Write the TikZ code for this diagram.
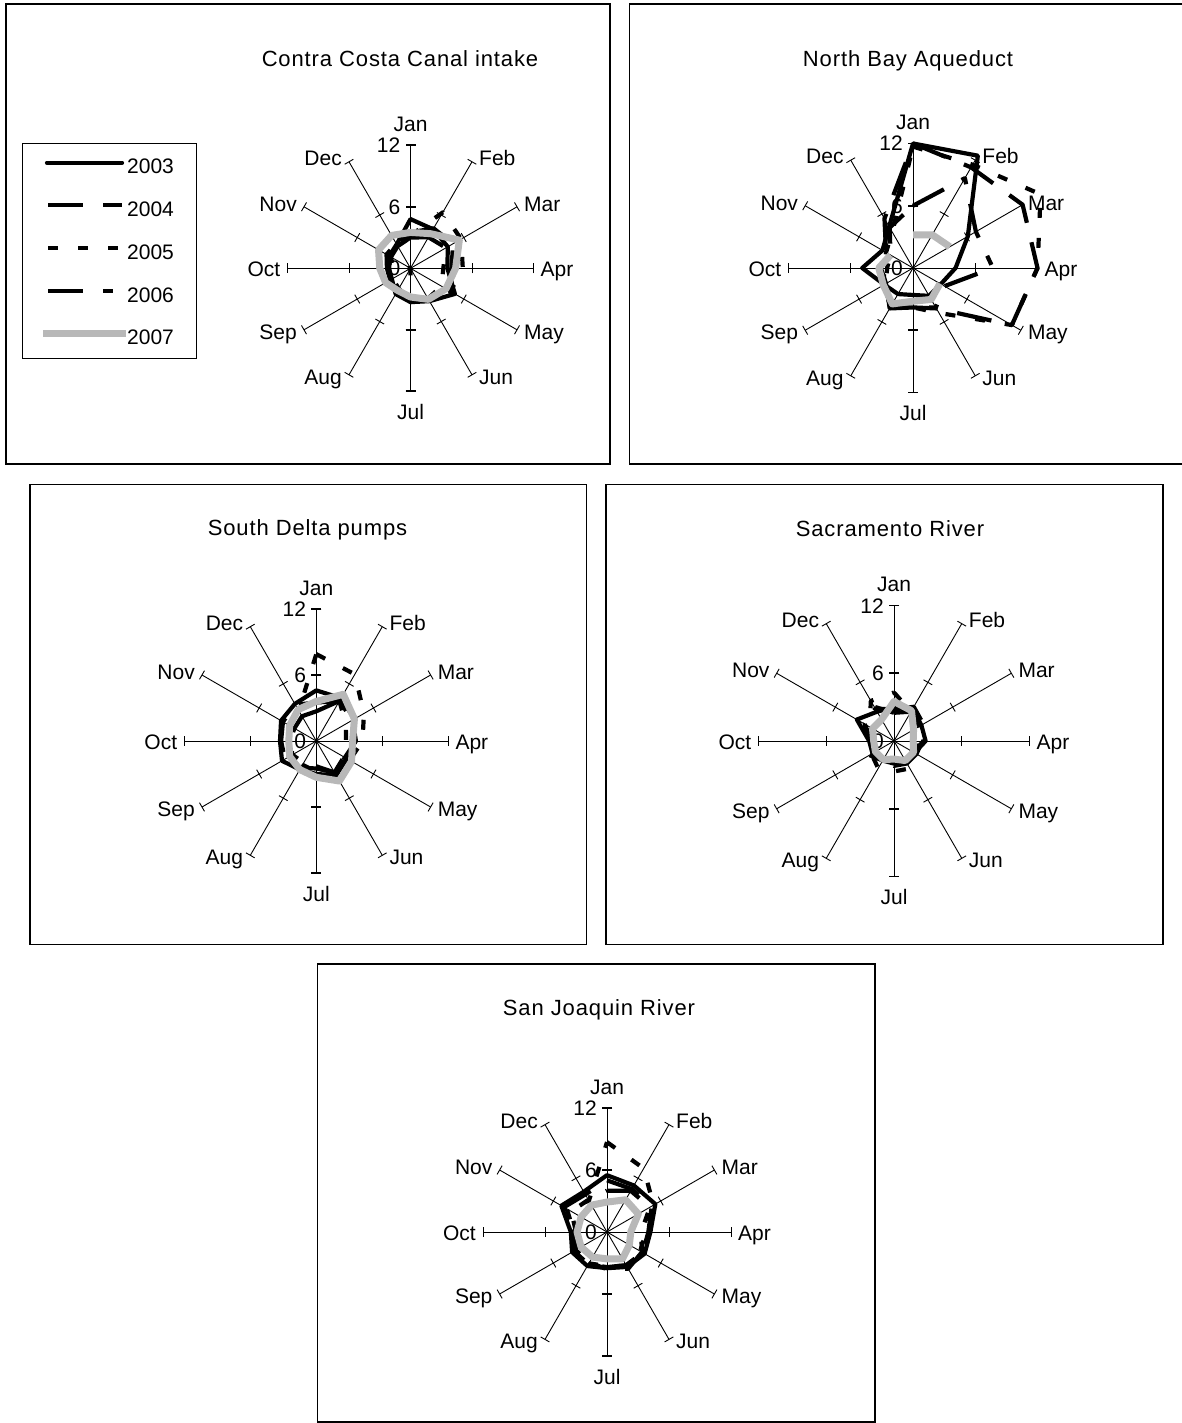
\documentclass[tikz,border=0pt]{standalone}
\usepackage{fontspec}
\setmainfont{Liberation Sans}
\definecolor{grayE}{RGB}{184,184,184}
\newcommand\runit{10}
% series: #1 style, #2 first value, #3 remaining values (closed polygon)
\newcommand\ser[3]{\draw[#1] (-90:{#2*\runit}) \foreach \v [count=\i] in {#3} { -- ({30*\i-90}:{\v*\runit}) } -- cycle;}
% open polyline: #1 style, #2 start month index, #3 first value, #4 rest
\newcommand\segs[4]{\draw[#1] ({30*(#2)-90}:{#3*\runit}) \foreach \v [count=\i] in {#4} { -- ({30*(#2+\i)-90}:{\v*\runit}) };}
% radar frame: #1 id, #2 cx, #3 cy, #4 R
\newcommand\radarbase[4]{%
 \begin{scope}[shift={(#2,#3)}]
  \foreach \i in {0,...,11}{
    \pgfmathsetmacro\a{30*\i-90}
    \draw[spoke] (0,0) -- ({\a}:{#4});
    \draw[tk] ({\a}:{#4/2}) ++({\a+90}:5) -- ++({\a-90}:10);
    \draw[tk] ({\a}:{#4}) ++({\a+90}:5) -- ++({\a-90}:10);
  }
  \foreach \a in {-90,90}{
    \draw[tkm] ({\a}:{#4/2}) ++({\a+90}:5) -- ++({\a-90}:10);
    \draw[tkm] ({\a}:{#4}) ++({\a+90}:5) -- ++({\a-90}:10);
  }
  \node[lab,anchor=base] (#1-jan) at (0,{-#4-14}) {Jan};
  \node[lab,anchor=west] (#1-feb) at ({0.5*#4+7},{-0.866*#4-4}) {Feb};
  \node[lab,anchor=west] (#1-mar) at ({0.866*#4+7},{-0.5*#4-3}) {Mar};
  \node[lab,anchor=west] (#1-apr) at ({#4+7},1) {Apr};
  \node[lab,anchor=west] (#1-may) at ({0.866*#4+7},{0.5*#4+2}) {May};
  \node[lab,anchor=west] (#1-jun) at ({0.5*#4+7},{0.866*#4+2}) {Jun};
  \node[lab,anchor=base] (#1-jul) at (0,{#4+28}) {Jul};
  \node[lab,anchor=east] (#1-aug) at ({-0.5*#4-7},{0.866*#4+2}) {Aug};
  \node[lab,anchor=east] (#1-sep) at ({-0.866*#4-7},{0.5*#4+2}) {Sep};
  \node[lab,anchor=east] (#1-oct) at ({-#4-7},1) {Oct};
  \node[lab,anchor=east] (#1-nov) at ({-0.866*#4-7},{-0.5*#4-3}) {Nov};
  \node[lab,anchor=east] (#1-dec) at ({-0.5*#4-7},{-0.866*#4-4}) {Dec};
  \node[lab,anchor=east] (#1-v12) at (-10,{-#4}) {12};
  \node[lab,anchor=east] (#1-v6) at (-10,{-#4/2}) {6};
  \node[lab,anchor=east] (#1-v0) at (-10,0) {0};
 \end{scope}}
\begin{document}
\begin{tikzpicture}[x=1pt,y=-1pt,
  spoke/.style={line width=0.9pt,black},
  tk/.style={line width=0.9pt,black},
  tkm/.style={line width=1.8pt,black},
  sA/.style={line width=4.2pt,line join=round,line cap=round,black},
  sB/.style={line width=4.2pt,line join=round,dash pattern=on 35pt off 20pt,black},
  sC/.style={line width=4.2pt,line join=round,dash pattern=on 10pt off 20pt,black},
  sD/.style={line width=4.2pt,line join=round,dash pattern=on 35pt off 20pt on 10pt off 20pt,black},
  sE/.style={line width=7pt,line join=round,grayE},
  lab/.style={font=\fontsize{21}{25}\selectfont,inner sep=0pt,text height=15pt,text depth=0pt},
  ttl/.style={font=\fontsize{22}{26}\selectfont\addfontfeature{LetterSpace=4},inner sep=0pt,anchor=base},
  leg/.style={font=\fontsize{21}{25}\selectfont,inner sep=0pt,anchor=base west},
  panel/.style={line width=1.2pt,black}]
\useasboundingbox (0,0) rectangle (1182,1423);
\fill[white] (0,0) rectangle (1182,1423);

% ---------- panel boxes ----------
\draw[panel] (6,4) rectangle (610,464);
\draw[panel] (629.5,4) rectangle (1200,464);
\draw[panel] (30,484.5) rectangle (586.5,944.5);
\draw[panel] (606,484.5) rectangle (1163,944.5);
\draw[panel] (317.5,964) rectangle (875,1422);

% ---------- titles ----------
\node[ttl] (t1) at (400,66.7) {Contra Costa Canal intake};
\node[ttl] (t2) at (908,66.5) {North Bay Aqueduct};
\node[ttl] (t3) at (307.5,535) {South Delta pumps};
\node[ttl] (t4) at (890,536.5) {Sacramento River};
\node[ttl] (t5) at (599,1015) {San Joaquin River};

% ---------- legend ----------
\draw[panel,line width=1pt] (22.7,144) rectangle (196.7,358);
\draw[sA] (47,162.7) -- (122,162.7);
\draw[sB] (48,205.3) -- (122,205.3);
\draw[sC] (48,248.3) -- (122,248.3);
\draw[sD] (48,291) -- (122,291);
\draw[sE] (43.3,333.3) -- (126,333.3);
\node[leg] (l3) at (127,174) {2003};
\node[leg] (l4) at (127,216.6) {2004};
\node[leg] (l5) at (127,259.6) {2005};
\node[leg] (l6) at (127,302.3) {2006};
\node[leg] (l7) at (127,344.6) {2007};

% ---------- frames ----------
\radarbase{ccc}{410.5}{268.3}{123}
\radarbase{nba}{913}{268}{124.5}
\radarbase{sdp}{316.3}{741}{132}
\radarbase{sac}{894}{741}{135.5}
\radarbase{sjr}{607}{1232}{124}

% ---------- Contra Costa ----------
\renewcommand\runit{10.25}
\begin{scope}[shift={(410.5,268.3)}]
 \ser{sA}{4.8}{4.4,4.2,3.6,5.0,3.7,3.3,2.9,2.1,2.1,2.4,2.7}
 \ser{sB}{3.5}{4.5,4.8,4.0,4.6,3.6,3.1,2.6,2.3,2.3,2.7,2.8}
 \ser{sC}{3.2}{6.3,5.7,5.1,4.5,3.5,3.0,2.3,2.0,2.0,2.5,2.8}
 \ser{sD}{3.0}{3.5,4.0,3.2,3.5,3.4,3.3,0,0,1.7,2.2,2.5}
 \ser{sE}{3.5}{3.9,5.5,4.4,4.0,3.5,2.8,2.5,2.8,3.0,3.6,3.7}
\end{scope}

% ---------- North Bay Aqueduct ----------
\renewcommand\runit{10.375}
\begin{scope}[shift={(913,268)}]
 \ser{sA}{12}{12.5,6.1,4.1,3.1,3.1,2.6,2.9,3.2,4.9,3.4,4.6}
 \ser{sB}{12}{11.2,12.2,12.0,11.0,4.5,3.8,4.5,3.0,3.1,3.0,5.5}
 \ser{sC}{11.7}{11.5,14.2,12.0,11.0,5.0,3.8,4.4,3.2,2.8,3.0,4.0}
 \ser{sD}{6.0}{10.0,7.0,7.7,3.5,4.4,3.8,4.5,3.0,2.5,2.5,4.5}
 \segs{sE}{0}{3.2}{3.7,4.1}
 \segs{sE}{4}{3.0}{3.5,3.2,4.0,3.3,3.3,2.5}
\end{scope}

% ---------- South Delta pumps ----------
\renewcommand\runit{11}
\begin{scope}[shift={(316.3,741)}]
 \ser{sA}{4.6}{4.5,4.0,3.5,3.2,3.6,3.0,3.0,3.6,3.3,3.7,3.9}
 \ser{sB}{3.5}{4.2,3.8,3.6,3.0,3.3,2.5,2.8,3.3,3.2,3.5,3.8}
 \ser{sC}{7.9}{7.0,5.0,4.2,3.5,3.5,2.8,2.5,2.6,2.5,2.8,3.2}
 \ser{sD}{2.7}{4.2,3.1,2.7,2.9,3.3,2.3,2.3,2.5,2.4,2.3,2.6}
 \ser{sE}{3.6}{4.9,4.0,3.3,3.7,4.2,3.3,3.0,2.8,2.5,2.8,3.3}
\end{scope}

% ---------- Sacramento River ----------
\renewcommand\runit{11.29}
\begin{scope}[shift={(894,741)}]
 \ser{sA}{3.0}{3.3,2.8,2.8,2.1,2.2,2.0,2.0,2.2,2.2,3.8,3.0}
 \ser{sB}{2.5}{3.0,2.6,2.5,2.3,2.3,2.2,2.1,2.0,2.0,3.0,3.5}
 \ser{sC}{4.3}{3.0,2.5,2.3,2.2,2.8,2.7,2.8,2.3,2.0,2.5,4.1}
 \ser{sD}{2.8}{3.5,3.0,2.6,2.0,2.0,1.8,2.0,2.5,2.3,3.2,3.3}
 \ser{sE}{3.5}{3.1,2.0,1.7,2.0,2.0,1.6,1.9,1.9,1.8,2.2,2.2}
\end{scope}

% ---------- San Joaquin River ----------
\renewcommand\runit{10.333}
\begin{scope}[shift={(607,1232)}]
 \ser{sA}{5.5}{5.2,5.4,4.2,4.2,3.9,3.5,3.8,3.9,3.5,5.1,4.5}
 \ser{sB}{5.0}{4.8,5.0,4.0,4.0,3.7,3.4,3.6,3.7,3.3,4.8,4.2}
 \ser{sC}{8.7}{7.1,5.2,3.8,3.7,3.8,3.3,3.5,3.6,3.2,4.5,3.5}
 \ser{sD}{4.0}{4.6,4.8,3.3,3.9,4.1,3.6,3.4,3.5,3.0,4.0,3.6}
 \ser{sE}{2.9}{3.6,3.5,2.3,2.5,3.0,2.6,2.8,2.9,2.9,2.9,3.0}
\end{scope}
\end{tikzpicture}
\end{document}
